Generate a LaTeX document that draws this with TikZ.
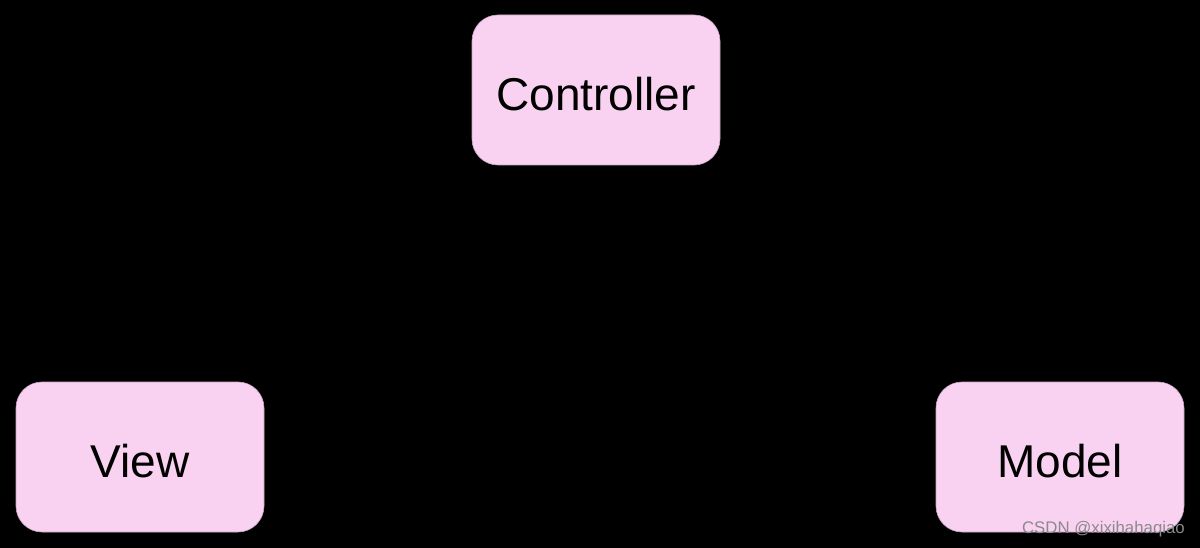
\documentclass[tikz,border=0pt]{standalone}
\usepackage{fontspec}
\setmainfont{Liberation Sans}
\definecolor{boxpink}{HTML}{F9D1F1}
\definecolor{boxedge}{HTML}{C9A6C2}
\definecolor{wmgray}{HTML}{8A8A8A}
\begin{document}
\begin{tikzpicture}[x=1pt,y=-1pt,
  mvcbox/.style={fill=boxpink, draw=boxedge, line width=0.6pt, rounded corners=26pt,
    minimum width=248pt, minimum height=150pt, inner sep=0pt,
    text height=41pt, text depth=0pt,
    font=\fontsize{46}{50}\selectfont, text=black},
  watermark/.style={font=\fontsize{16.8}{19}\selectfont, text=wmgray, anchor=east, inner sep=0pt}]
\fill[black] (0,0) rectangle (1200,548);
\useasboundingbox (0,0) rectangle (1200,548);
\node[mvcbox] (ctrl) at (596,90) {Controller};
\node[mvcbox] (view) at (140,457) {View};
\node[mvcbox] (model) at (1060,457) {Model};
\node[watermark] (wm) at (1185,529) {CSDN @xixihahaqiao};
\end{tikzpicture}
\end{document}
